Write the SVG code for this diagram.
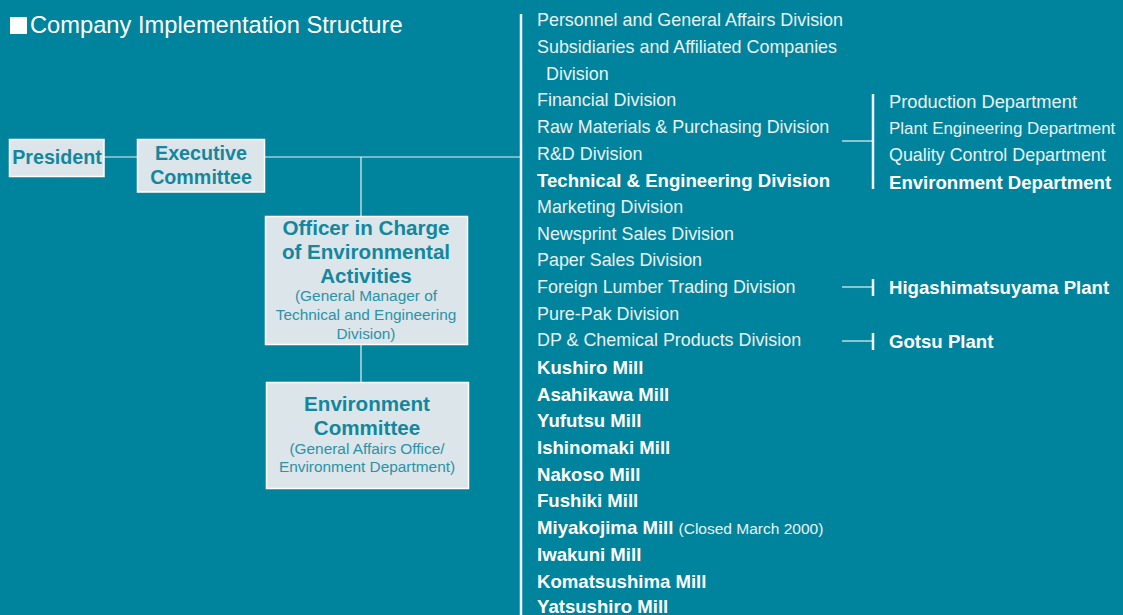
<svg xmlns="http://www.w3.org/2000/svg" width="1123" height="615" viewBox="0 0 1123 615">
  <style>
    .box { fill: #dce5ea; stroke: #ffffff; stroke-width: 1.5; }
    .ln { stroke: #e6f1f4; stroke-width: 1.2; fill: none; }
    .bar { stroke: #f4f8f9; stroke-width: 2.5; fill: none; }
    .bt { font-family: "Liberation Sans", Arial, sans-serif; font-weight: bold; fill: #12879e; text-anchor: middle; }
    .st { font-family: "Liberation Sans", Arial, sans-serif; fill: #2a93a8; text-anchor: middle; font-size: 15.4px; }
    .li { font-family: "Liberation Sans", Arial, sans-serif; fill: #e9f2f4; font-size: 17.9px; }
    .lb { font-family: "Liberation Sans", Arial, sans-serif; fill: #ffffff; font-size: 18.6px; font-weight: bold; }
    .note { font-weight: normal; font-size: 15.5px; fill: #e9f2f4; }
    .title { font-family: "Liberation Sans", Arial, sans-serif; fill: #ffffff; font-size: 23.7px; }
  </style>
  <rect width="1123" height="615" fill="#00849e"/>

  <!-- heading -->
  <rect x="10" y="17" width="17" height="17" fill="#ffffff"/>
  <text class="title" x="30" y="33">Company Implementation Structure</text>

  <!-- connectors -->
  <g id="connectors">
    <line class="ln" x1="104" y1="157" x2="137" y2="157"/>
    <line class="ln" x1="264" y1="157" x2="521" y2="157"/>
    <line class="ln" x1="361" y1="157" x2="361" y2="216"/>
    <line class="ln" x1="361" y1="344" x2="361" y2="382"/>
    <line class="bar" x1="521" y1="14" x2="521" y2="615"/>
    <line class="ln" x1="842" y1="141" x2="873" y2="141"/>
    <line class="bar" x1="873" y1="94" x2="873" y2="189"/>
    <line class="ln" x1="842" y1="287" x2="873" y2="287"/>
    <line class="bar" x1="873" y1="279" x2="873" y2="296"/>
    <line class="ln" x1="842" y1="341" x2="873" y2="341"/>
    <line class="bar" x1="873" y1="333" x2="873" y2="350"/>
  </g>

  <g id="president">
    <rect class="box" x="9.5" y="139.5" width="94.5" height="37"/>
    <text class="bt" x="57" y="164" font-size="19.7">President</text>
  </g>

  <g id="executive-committee">
    <rect class="box" x="137.5" y="139.5" width="127" height="52.5"/>
    <text class="bt" x="201" y="160" font-size="19.7">Executive</text>
    <text class="bt" x="201" y="184" font-size="19.7">Committee</text>
  </g>

  <g id="officer">
    <rect class="box" x="265.5" y="216.5" width="202" height="128"/>
    <text class="bt" x="366" y="235" font-size="20.6">Officer in Charge</text>
    <text class="bt" x="366" y="259" font-size="20.6">of Environmental</text>
    <text class="bt" x="366" y="283" font-size="20.6">Activities</text>
    <text class="st" x="366" y="301">(General Manager of</text>
    <text class="st" x="366" y="320">Technical and Engineering</text>
    <text class="st" x="366" y="339">Division)</text>
  </g>

  <g id="environment-committee">
    <rect class="box" x="266.5" y="382.5" width="202" height="106"/>
    <text class="bt" x="367" y="411" font-size="20.6">Environment</text>
    <text class="bt" x="367" y="435" font-size="20.6">Committee</text>
    <text class="st" x="367" y="454">(General Affairs Office/</text>
    <text class="st" x="367" y="472">Environment Department)</text>
  </g>

  <g id="divisions">
    <text class="li" x="537" y="26">Personnel and General Affairs Division</text>
    <text class="li" x="537" y="53">Subsidiaries and Affiliated Companies</text>
    <text class="li" x="546" y="80">Division</text>
    <text class="li" x="537" y="106">Financial Division</text>
    <text class="li" x="537" y="133">Raw Materials &amp; Purchasing Division</text>
    <text class="li" x="537" y="160">R&amp;D Division</text>
    <text class="lb" x="537" y="187">Technical &amp; Engineering Division</text>
    <text class="li" x="537" y="213">Marketing Division</text>
    <text class="li" x="537" y="240">Newsprint Sales Division</text>
    <text class="li" x="537" y="266">Paper Sales Division</text>
    <text class="li" x="537" y="293">Foreign Lumber Trading Division</text>
    <text class="li" x="537" y="320">Pure-Pak Division</text>
    <text class="li" x="537" y="346">DP &amp; Chemical Products Division</text>
    <text class="lb" x="537" y="374">Kushiro Mill</text>
    <text class="lb" x="537" y="401">Asahikawa Mill</text>
    <text class="lb" x="537" y="427">Yufutsu Mill</text>
    <text class="lb" x="537" y="454">Ishinomaki Mill</text>
    <text class="lb" x="537" y="481">Nakoso Mill</text>
    <text class="lb" x="537" y="507">Fushiki Mill</text>
    <text class="lb" x="537" y="534">Miyakojima Mill <tspan class="note">(Closed March 2000)</tspan></text>
    <text class="lb" x="537" y="561">Iwakuni Mill</text>
    <text class="lb" x="537" y="588">Komatsushima Mill</text>
    <text class="lb" x="537" y="613">Yatsushiro Mill</text>
  </g>

  <g id="departments">
    <text class="li" x="889" y="108" style="font-size:18.3px">Production Department</text>
    <text class="li" x="889" y="134" style="font-size:16.9px">Plant Engineering Department</text>
    <text class="li" x="889" y="161">Quality Control Department</text>
    <text class="lb" x="889" y="189">Environment Department</text>
  </g>

  <g id="plants">
    <text class="lb" x="889" y="294">Higashimatsuyama Plant</text>
    <text class="lb" x="889" y="348">Gotsu Plant</text>
  </g>
</svg>
